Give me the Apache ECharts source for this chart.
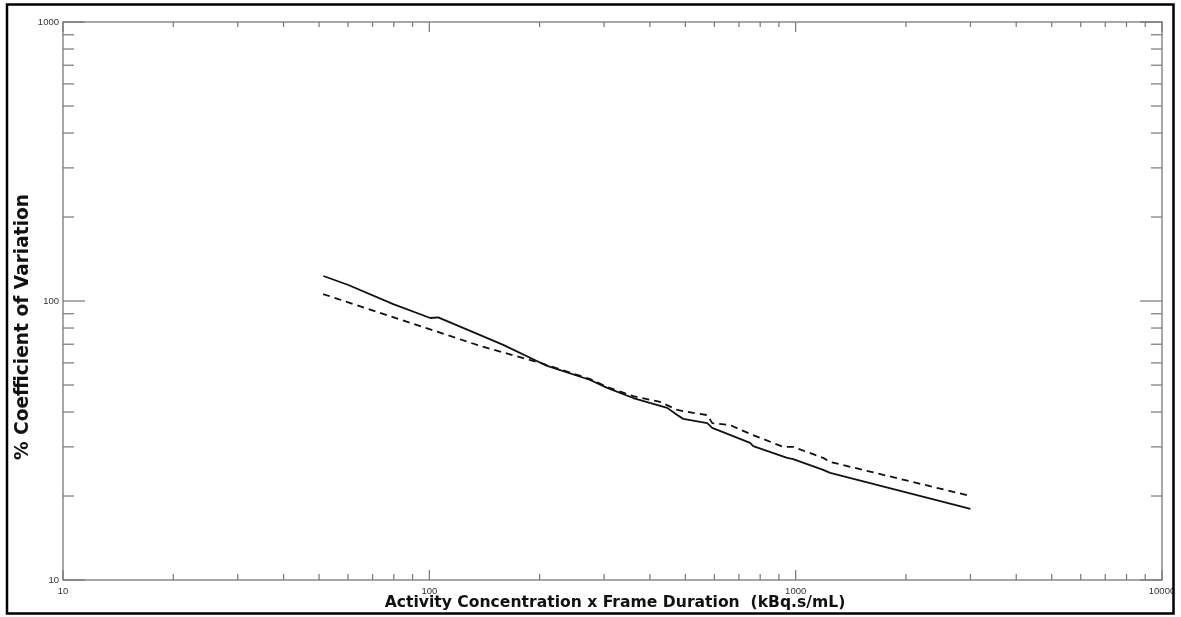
<!DOCTYPE html>
<html>
<head>
<meta charset="utf-8">
<script src="https://cdn.jsdelivr.net/npm/echarts@6/dist/echarts.min.js"></script>
<style>
  html, body { margin: 0; padding: 0; background: #ffffff; }
  #chart { width: 1181px; height: 617px; }
</style>
</head>
<body>
<div id="chart"></div>
<script>
// Activity concentration x frame duration (kBq.s/mL) vs % coefficient of variation
const solidX = [51.4, 60.1, 79.7, 100.6, 105.7, 137.7, 159.1, 209.8, 274.9, 305.9, 360.2, 446.1, 474.9, 493.2, 573.6, 591.9, 751.1, 765.6, 948.0, 984.5, 1189, 1242, 3000];
const solidY = [122.9, 114.1, 97.5, 86.9, 87.4, 75.5, 69.6, 58.5, 52.1, 48.8, 44.9, 41.4, 39.0, 37.8, 36.5, 35.1, 31.0, 30.2, 27.4, 27.1, 24.8, 24.2, 18.0];

const dashX = [51.3, 137.7, 200.8, 274.9, 305.9, 360.2, 426.7, 474.9, 525.2, 573.6, 591.9, 662.4, 751.1, 924.5, 984.5, 1189, 1242, 3000];
const dashY = [105.9, 69.0, 60.0, 52.5, 49.2, 45.6, 43.5, 40.7, 39.7, 39.0, 36.5, 35.9, 33.4, 30.0, 30.0, 27.4, 26.5, 20.0];

// Axis ranges and tick marks (decades are major ticks)
const xRange = [10, 10000];
const yRange = [10, 1000];
const xTicks = [10, 20, 30, 40, 50, 60, 70, 80, 90, 100, 200, 300, 400, 500, 600, 700, 800, 900, 1000, 2000, 3000, 4000, 5000, 6000, 7000, 8000, 9000, 10000];
const yTicks = [10, 20, 30, 40, 50, 60, 70, 80, 90, 100, 200, 300, 400, 500, 600, 700, 800, 900, 1000];

const xTitle = 'Activity Concentration x Frame Duration  (kBq.s/mL)';
const yTitle = '% Coefficient of Variation';

const isDecade = v => Math.abs(Math.log10(v) - Math.round(Math.log10(v))) < 1e-9;
const zip = (a, b) => a.map((v, i) => [v, b[i]]);

const tickColor = '#777777';

const chart = echarts.init(document.getElementById('chart'), null, { renderer: 'canvas' });

chart.setOption({
  animation: false,
  backgroundColor: '#ffffff',
  grid: {
    left: 63, right: 19, top: 22, bottom: 37,
    show: true, borderColor: '#8a8a8a', borderWidth: 1.5, backgroundColor: 'transparent'
  },
  xAxis: {
    type: 'log', logBase: 10, min: xRange[0], max: xRange[1],
    axisLine: { show: false }, axisTick: { show: false }, splitLine: { show: false },
    axisLabel: {
      fontSize: 9.5, color: '#333333', margin: 6, fontFamily: 'Liberation Sans',
      formatter: v => String(Math.round(v))
    }
  },
  yAxis: {
    type: 'log', logBase: 10, min: yRange[0], max: yRange[1],
    axisLine: { show: false }, axisTick: { show: false }, splitLine: { show: false },
    axisLabel: {
      fontSize: 9.5, color: '#333333', margin: 4, fontFamily: 'Liberation Sans',
      formatter: v => String(Math.round(v))
    }
  },
  series: [
    {
      // inward ticks on bottom and top edges
      type: 'custom', silent: true, clip: false, z: 3,
      data: xTicks.map(v => [v, yRange[0], isDecade(v) ? 1 : 0]),
      encode: { x: 0, y: 1 },
      renderItem: (params, api) => {
        const v = api.value(0);
        const len = api.value(2) ? 10 : 6;
        const b = api.coord([v, yRange[0]]);
        const t = api.coord([v, yRange[1]]);
        const st = { stroke: tickColor, lineWidth: 1.2 };
        return { type: 'group', children: [
          { type: 'line', shape: { x1: b[0], y1: b[1], x2: b[0], y2: b[1] - len }, style: st },
          { type: 'line', shape: { x1: t[0], y1: t[1], x2: t[0], y2: t[1] + (api.value(2) ? 10 : 5) }, style: st }
        ] };
      }
    },
    {
      // inward ticks on left and right edges
      type: 'custom', silent: true, clip: false, z: 3,
      data: yTicks.map(v => [xRange[0], v, isDecade(v) ? 1 : 0]),
      encode: { x: 0, y: 1 },
      renderItem: (params, api) => {
        const v = api.value(1);
        const len = api.value(2) ? 22 : 11;
        const l = api.coord([xRange[0], v]);
        const r = api.coord([xRange[1], v]);
        const st = { stroke: tickColor, lineWidth: 1.2 };
        return { type: 'group', children: [
          { type: 'line', shape: { x1: l[0], y1: l[1], x2: l[0] + len, y2: l[1] }, style: st },
          { type: 'line', shape: { x1: r[0], y1: r[1], x2: r[0] - len, y2: r[1] }, style: st }
        ] };
      }
    },
    {
      name: 'solid', type: 'line', data: zip(solidX, solidY),
      showSymbol: false, symbol: 'none', smooth: false, z: 5,
      lineStyle: { color: '#111111', width: 1.8, type: 'solid' }
    },
    {
      name: 'dashed', type: 'line', data: zip(dashX, dashY),
      showSymbol: false, symbol: 'none', smooth: false, z: 5,
      lineStyle: { color: '#111111', width: 1.8, type: [7, 5] }
    }
  ],
  graphic: [
    {
      type: 'text', z: 10,
      x: 615, y: 603,
      style: { text: xTitle, font: 'bold 15.6px "DejaVu Sans"', fill: '#111111', align: 'center', verticalAlign: 'middle' }
    },
    {
      type: 'text', z: 10,
      x: 23, y: 327, rotation: Math.PI / 2,
      style: { text: yTitle, font: 'bold 18.6px "DejaVu Sans"', fill: '#111111', align: 'center', verticalAlign: 'middle' }
    },
    {
      type: 'rect', z: 20,
      shape: { x: 1174, y: 0, width: 10, height: 617 },
      style: { fill: '#ffffff' }
    },
    {
      type: 'rect', z: 21,
      shape: { x: 7, y: 4.5, width: 1166.5, height: 609 },
      style: { fill: 'none', stroke: '#000000', lineWidth: 2.5 }
    }
  ]
});
</script>
</body>
</html>
